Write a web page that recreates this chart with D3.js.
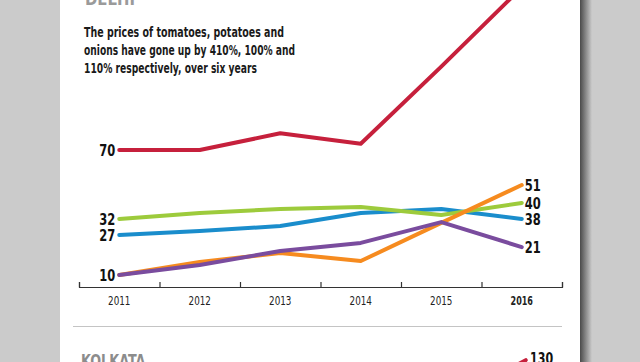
<!DOCTYPE html>
<html>
<head>
<meta charset="utf-8">
<script src="https://cdn.jsdelivr.net/npm/d3@7"></script>
<style>
    html, body { margin: 0; padding: 0; background: #cbcbcb; }
    svg { display: block; }
    .narrow { font-family: "Liberation Sans Narrow", "DejaVu Sans Condensed", "Roboto", sans-serif; }
</style>
</head>
<body>
<svg id="chart" width="640" height="362"></svg>
<script>
// values in the chart's plotted units
// (the printed chart is not drawn to scale, so its printed numbers are kept apart)
const YEARS = [2011, 2012, 2013, 2014, 2015, 2016];
const RED = [70, 70, 78, 73, 110, 148];
const BLUE = [29.2, 31.1, 33.5, 39.8, 41.7, 36.9];
const GREEN = [36.9, 39.8, 41.7, 42.6, 38.8, 44.6];
const ORANGE = [10, 16.2, 20.6, 16.7, 35.0, 53.2];
const PURPLE = [10, 14.8, 21.5, 25.4, 35.4, 23.4];

const START_LABELS = [["red", "70"], ["green", "32"], ["blue", "27"], ["purple", "10"]];
const END_LABELS = [["orange", "51"], ["green", "40"], ["blue", "38"], ["purple", "21"]];

const TITLE = "DELHI";
const SUBTITLE = [
    "The prices of tomatoes, potatoes and",
    "onions have gone up by 410%, 100% and",
    "110% respectively, over six years",
];
const NEXT_TITLE = "KOLKATA";
const NEXT_YEARS = [2015, 2016];
const NEXT_RED = [100, 128];
const NEXT_LABEL = "130";

const series = [
    { key: "red", values: RED, color: "#c6203c" },
    { key: "blue", values: BLUE, color: "#1a8dcc" },
    { key: "green", values: GREEN, color: "#9dcb3c" },
    { key: "orange", values: ORANGE, color: "#f68b1f" },
    { key: "purple", values: PURPLE, color: "#7a4c9e" },
];
const byKey = {};
series.forEach((s) => (byKey[s.key] = s));

const svg = d3.select("#chart");

// white panel with a shadow on its right edge
const defs = svg.append("defs");
const grad = defs.append("linearGradient").attr("id", "shade");
grad.append("stop").attr("offset", "0%").attr("stop-color", "#4a4a4a");
grad.append("stop").attr("offset", "100%").attr("stop-color", "#cbcbcb");
svg.append("rect").attr("x", 580).attr("y", 0).attr("width", 12).attr("height", 362).attr("fill", "url(#shade)");
svg.append("rect").attr("x", 60).attr("y", 0).attr("width", 520).attr("height", 362).attr("fill", "#fff");

const xBand = d3.scaleBand().domain(YEARS).range([79, 562]);
const xMid = (yr) => xBand(yr) + xBand.bandwidth() / 2;
const xEdge = d3.scaleLinear().domain([2010.5, 2016.5]).range([79, 562]);
const y = d3.scaleLinear().domain([10, 70]).range([275, 150]);
const axisY = 287;

// the print font is a narrow one, squeeze the fallback to its width
const squeeze = (sel, perChar) =>
    sel.attr("textLength", (d, i, n) => n[i].textContent.length * perChar)
        .attr("lengthAdjust", "spacingAndGlyphs");

// title (cut off at top) and subtitle
svg.append("text").attr("class", "narrow")
    .attr("x", 85).attr("y", 5)
    .attr("font-size", 17).attr("font-weight", "bold").attr("fill", "#9a9a9a")
    .text(TITLE)
    .call(squeeze, 10);

const subWidths = [200, 211, 173];
svg.append("g").selectAll("text")
    .data(SUBTITLE)
    .enter()
    .append("text")
    .attr("class", "narrow")
    .attr("x", 84)
    .attr("y", (d, i) => 37 + i * 18)
    .attr("font-size", 14)
    .attr("font-weight", "bold")
    .attr("fill", "#1a1a1a")
    .attr("textLength", (d, i) => subWidths[i])
    .attr("lengthAdjust", "spacingAndGlyphs")
    .text((d) => d);

// axis: boundary ticks pointing up
const tickAxis = d3.axisTop(xEdge)
    .tickValues(d3.range(2010.5, 2017, 1))
    .tickSize(5)
    .tickSizeOuter(5)
    .tickFormat("");
const gTicks = svg.append("g")
    .attr("transform", `translate(0, ${axisY})`)
    .call(tickAxis);
gTicks.selectAll("path, line").attr("stroke", "#333").attr("stroke-width", 1.2);

const labelAxis = d3.axisBottom(xBand).tickSize(0).tickPadding(9);
const gLabels = svg.append("g")
    .attr("transform", `translate(0, ${axisY})`)
    .call(labelAxis);
gLabels.select(".domain").remove();
gLabels.selectAll("text")
    .attr("class", "narrow")
    .attr("font-size", 12.5)
    .attr("fill", "#222")
    .attr("font-weight", (d) => (d === 2016 ? "bold" : "normal"))
    .call(squeeze, 5.6);

// lines
const line = d3.line()
    .x((d, i) => xMid(YEARS[i]))
    .y((d) => y(d));

svg.append("g").selectAll("path.line")
    .data(series)
    .enter()
    .append("path")
    .attr("class", "line")
    .attr("d", (d) => line(d.values))
    .attr("fill", "none")
    .attr("stroke", (d) => d.color)
    .attr("stroke-width", 4)
    .attr("stroke-linecap", "round")
    .attr("stroke-linejoin", "round");

// value labels
const first = YEARS[0];
svg.append("g").selectAll("text")
    .data(START_LABELS)
    .enter()
    .append("text")
    .attr("class", "narrow")
    .attr("x", xMid(first) - 4)
    .attr("y", (d) => y(byKey[d[0]].values[0]))
    .attr("dy", "0.36em")
    .attr("text-anchor", "end")
    .attr("font-size", 16.5)
    .attr("font-weight", "bold")
    .attr("fill", "#111")
    .text((d) => d[1])
    .call(squeeze, 8);

svg.append("g").selectAll("text")
    .data(END_LABELS)
    .enter()
    .append("text")
    .attr("class", "narrow")
    .attr("x", xMid(YEARS[YEARS.length - 1]) + 3)
    .attr("y", (d) => y(byKey[d[0]].values[YEARS.length - 1]))
    .attr("dy", "0.36em")
    .attr("font-size", 16.5)
    .attr("font-weight", "bold")
    .attr("fill", "#111")
    .text((d) => d[1])
    .call(squeeze, 8);

// separator and the next (cropped) panel
svg.append("line")
    .attr("x1", 73).attr("x2", 562)
    .attr("y1", 326.5).attr("y2", 326.5)
    .attr("stroke", "#c4c4c4").attr("stroke-width", 1);

svg.append("text").attr("class", "narrow")
    .attr("x", 81).attr("y", 367)
    .attr("font-size", 17).attr("font-weight", "bold").attr("fill", "#8c8c8c")
    .text(NEXT_TITLE)
    .call(squeeze, 9.2);

const yNext = d3.scaleLinear().domain([100, 130]).range([404, 357]);
svg.append("path")
    .datum(NEXT_RED)
    .attr("d", d3.line().x((d, i) => xMid(NEXT_YEARS[i]) + 4).y((d) => yNext(d)))
    .attr("fill", "none")
    .attr("stroke", "#c6203c")
    .attr("stroke-width", 4)
    .attr("stroke-linecap", "round");

svg.append("text").attr("class", "narrow")
    .attr("x", 530).attr("y", 364)
    .attr("font-size", 16.5).attr("font-weight", "bold").attr("fill", "#111")
    .text(NEXT_LABEL)
    .call(squeeze, 7.7);
</script>
</body>
</html>
